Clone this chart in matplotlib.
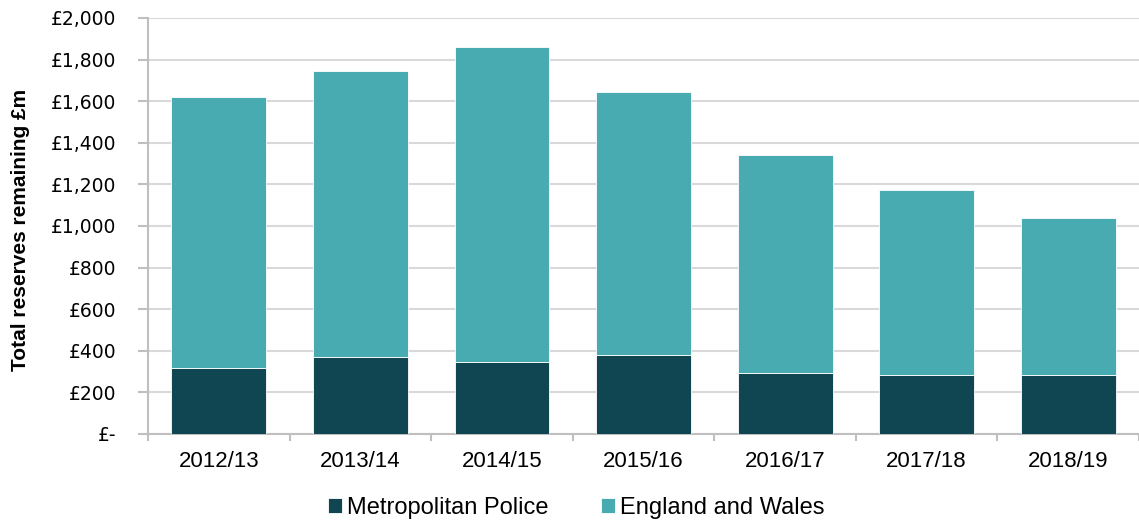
import matplotlib.pyplot as plt
from matplotlib.ticker import FuncFormatter

years = ["2012/13", "2013/14", "2014/15", "2015/16", "2016/17", "2017/18", "2018/19"]
met_police = [316, 372, 348, 380, 295, 285, 285]
eng_wales = [1304, 1373, 1514, 1264, 1046, 887, 753]

dark = "#0f4651"
teal = "#48abb1"

fig = plt.figure(figsize=(11.39, 5.2), dpi=100)
ax = fig.add_axes([0.13, 0.1654, 0.87, 0.8])

x = range(len(years))
ax.bar(x, met_police, width=0.67, color=dark, edgecolor="white", linewidth=0.6,
       label="Metropolitan Police", zorder=3)
ax.bar(x, eng_wales, width=0.67, bottom=met_police, color=teal, edgecolor="white",
       linewidth=0.6, label="England and Wales", zorder=3)

ax.set_xlim(-0.5, len(years) - 0.5)
ax.set_ylim(0, 2000)
ax.set_yticks(range(0, 2001, 200))
ax.yaxis.set_major_formatter(FuncFormatter(lambda v, p: "£-" if v == 0 else f"£{int(v):,}"))
ax.grid(axis="y", color="#d9d9d9", linewidth=1.5, zorder=0)

# category boundary ticks on x axis
ax.set_xticks([i - 0.5 for i in range(len(years) + 1)])
ax.set_xticklabels([])
ax.set_xticks(list(x), minor=True)
ax.set_xticklabels(years, minor=True, fontsize=16, family="Liberation Sans")
ax.tick_params(axis="x", which="minor", length=0, pad=12)
ax.tick_params(axis="x", which="major", length=5, color="#bfbfbf", width=1.5)
ax.tick_params(axis="y", length=7, color="#bfbfbf", width=1.5, labelsize=13.5, pad=16)

for s in ["top", "right"]:
    ax.spines[s].set_visible(False)
for s in ["left", "bottom"]:
    ax.spines[s].set_color("#bfbfbf")
    ax.spines[s].set_linewidth(1.5)

ax.set_ylabel("Total reserves remaining £m", fontsize=15, fontweight="bold",
              family="Liberation Sans")
ax.yaxis.set_label_coords(-0.119, 0.49)

ax.legend(loc="upper center", bbox_to_anchor=(0.432, -0.1), ncol=2, frameon=False,
          prop={"family": "Liberation Sans", "size": 17}, handlelength=0.6,
          handleheight=0.6, handletextpad=0.2, columnspacing=2.2)

fig.savefig("out.png", dpi=100)
